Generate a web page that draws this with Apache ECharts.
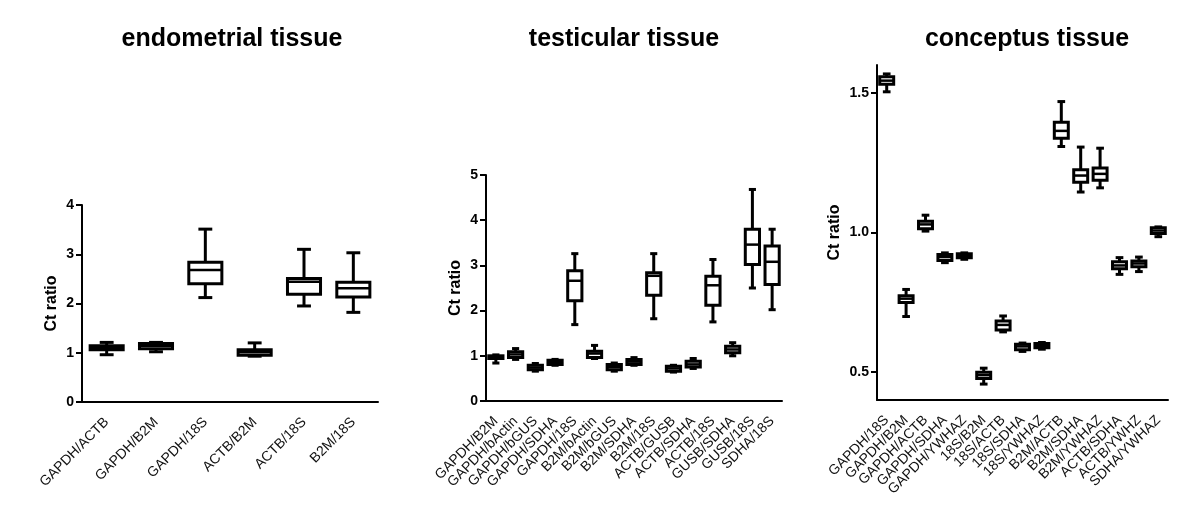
<!DOCTYPE html>
<html><head><meta charset="utf-8">
<script src="https://cdn.jsdelivr.net/npm/echarts@6.0.0/dist/echarts.min.js"></script>
<style>html,body{margin:0;padding:0;background:#fff}#c{width:1200px;height:531px}</style>
</head><body><div id="c"></div>
<script>
// ---- data: five-number summaries [min, q1, median, q3, max] ----
const panelTitles = ['endometrial tissue', 'testicular tissue', 'conceptus tissue'];
const yAxisName = 'Ct ratio';

const endoCategories = ['GAPDH/ACTB', 'GAPDH/B2M', 'GAPDH/18S', 'ACTB/B2M', 'ACTB/18S', 'B2M/18S'];
const endoStats = [
  [0.96, 1.06, 1.10, 1.14, 1.21],
  [1.02, 1.08, 1.14, 1.19, 1.21],
  [2.12, 2.40, 2.68, 2.84, 3.51],
  [0.93, 0.95, 1.01, 1.06, 1.20],
  [1.95, 2.19, 2.44, 2.51, 3.10],
  [1.82, 2.13, 2.31, 2.43, 3.03]
];
const endoTicks = [0, 1, 2, 3, 4];

const testCategories = ['GAPDH/B2M', 'GAPDH/bActin', 'GAPDH/bGUS', 'GAPDH/SDHA', 'GAPDH/18S', 'B2M/bActin', 'B2M/bGUS', 'B2M/SDHA', 'B2M/18S', 'ACTB/GUSB', 'ACTB/SDHA', 'ACTB/18S', 'GUSB/SDHA', 'GUSB/18S', 'SDHA/18S'];
const testStats = [
  [0.84, 0.94, 0.98, 1.00, 1.02],
  [0.92, 0.96, 1.03, 1.09, 1.16],
  [0.66, 0.69, 0.74, 0.79, 0.83],
  [0.79, 0.81, 0.86, 0.90, 0.92],
  [1.69, 2.22, 2.66, 2.88, 3.26],
  [0.94, 0.96, 1.05, 1.10, 1.23],
  [0.66, 0.69, 0.75, 0.81, 0.84],
  [0.79, 0.81, 0.87, 0.92, 0.96],
  [1.82, 2.34, 2.77, 2.84, 3.26],
  [0.64, 0.66, 0.72, 0.77, 0.79],
  [0.72, 0.75, 0.81, 0.88, 0.94],
  [1.75, 2.12, 2.56, 2.76, 3.13],
  [1.00, 1.07, 1.14, 1.21, 1.29],
  [2.50, 3.02, 3.46, 3.80, 4.68],
  [2.02, 2.58, 3.08, 3.43, 3.80]
];
const testTicks = [0, 1, 2, 3, 4, 5];

const concCategories = ['GAPDH/18S', 'GAPDH/B2M', 'GAPDH/ACTB', 'GAPDH/SDHA', 'GAPDH/YWHAZ', '18S/B2M', '18S/ACTB', '18S/SDHA', '18S/YWHAZ', 'B2M/ACTB', 'B2M/SDHA', 'B2M/YWHAZ', 'ACTB/SDHA', 'ACTB/YWHZ', 'SDHA/YWHAZ'];
const concStats = [
  [1.504, 1.531, 1.544, 1.558, 1.568],
  [0.699, 0.749, 0.763, 0.773, 0.796],
  [1.005, 1.013, 1.029, 1.040, 1.062],
  [0.892, 0.900, 0.912, 0.921, 0.927],
  [0.904, 0.910, 0.915, 0.924, 0.927],
  [0.457, 0.477, 0.489, 0.499, 0.514],
  [0.644, 0.651, 0.669, 0.683, 0.701],
  [0.574, 0.580, 0.592, 0.600, 0.604],
  [0.582, 0.587, 0.594, 0.602, 0.606],
  [1.308, 1.338, 1.364, 1.395, 1.469],
  [1.145, 1.180, 1.204, 1.225, 1.306],
  [1.160, 1.187, 1.210, 1.231, 1.302],
  [0.850, 0.870, 0.882, 0.895, 0.910],
  [0.860, 0.877, 0.889, 0.898, 0.912],
  [0.985, 0.996, 1.007, 1.017, 1.020]
];
const concTicks = [0.5, 1.0, 1.5];

// ---- chart ----
const FONT = 'Arial, "Liberation Sans", Helvetica, sans-serif';
const chart = echarts.init(document.getElementById('c'), null, {renderer: 'canvas'});

function makeRender(boxFrac, capFrac) {
  return function (params, api) {
    const x = api.value(0);
    const band = api.size([1, 0])[0];
    const bw = band * boxFrac, cw = bw * capFrac;
    const pMin = api.coord([x, api.value(1)]);
    const pQ1 = api.coord([x, api.value(2)]);
    const pMed = api.coord([x, api.value(3)]);
    const pQ3 = api.coord([x, api.value(4)]);
    const pMax = api.coord([x, api.value(5)]);
    const cx = pMin[0];
    const lw = 3;
    const st = {stroke: '#000', lineWidth: lw, fill: null};
    return {
      type: 'group',
      children: [
        {type: 'line', shape: {x1: cx, y1: pMax[1], x2: cx, y2: pQ3[1]}, style: st},
        {type: 'line', shape: {x1: cx, y1: pQ1[1], x2: cx, y2: pMin[1]}, style: st},
        {type: 'line', shape: {x1: cx - cw / 2, y1: pMax[1], x2: cx + cw / 2, y2: pMax[1]}, style: st},
        {type: 'line', shape: {x1: cx - cw / 2, y1: pMin[1], x2: cx + cw / 2, y2: pMin[1]}, style: st},
        {type: 'rect', shape: {x: cx - bw / 2, y: pQ3[1], width: bw, height: pQ1[1] - pQ3[1]},
          style: {stroke: '#000', lineWidth: lw, fill: '#fff'}},
        {type: 'line', shape: {x1: cx - bw / 2, y1: pMed[1], x2: cx + bw / 2, y2: pMed[1]}, style: {stroke: '#000', lineWidth: 2.5}}
      ]
    };
  };
}

function xAxisCfg(gi, cats) {
  return {
    type: 'category', gridIndex: gi, data: cats, boundaryGap: true,
    axisLine: {onZero: false, lineStyle: {color: '#000', width: 2}},
    axisTick: {alignWithLabel: true, length: 6, lineStyle: {color: '#000', width: 2}},
    axisLabel: {rotate: 45, interval: 0, fontSize: 14, color: '#111', margin: 18, fontFamily: FONT},
    splitLine: {show: false}
  };
}
function yAxisCfg(gi, min, max, ticks, nameGap, fmt) {
  return {
    type: 'value', gridIndex: gi, min: min, max: max,
    name: yAxisName, nameLocation: 'middle', nameGap: nameGap,
    nameTextStyle: {fontSize: 16, fontWeight: 'bold', color: '#000', fontFamily: FONT},
    axisLine: {show: true, onZero: false, lineStyle: {color: '#000', width: 2}},
    axisTick: {show: true, length: 6, customValues: ticks, lineStyle: {color: '#000', width: 2}},
    axisLabel: {fontSize: 14, fontWeight: 'bold', color: '#000', margin: 8, fontFamily: FONT,
      customValues: ticks, formatter: fmt},
    splitLine: {show: false}
  };
}
function rows(stats) { return stats.map((s, i) => [i].concat(s)); }

const option = {
  backgroundColor: '#fff',
  animation: false,
  graphic: panelTitles.map((t, i) => ({
    type: 'text', x: [232, 624, 1027][i], y: 39,
    style: {text: t, fontSize: 25, fontWeight: 'bold', fill: '#000', fontFamily: FONT,
      align: 'center', verticalAlign: 'middle'}
  })),
  grid: [
    {left: 82, top: 205, width: 296, height: 197},
    {left: 486, top: 175, width: 296, height: 226},
    {left: 877, top: 65, width: 291, height: 335}
  ],
  xAxis: [xAxisCfg(0, endoCategories), xAxisCfg(1, testCategories), xAxisCfg(2, concCategories)],
  yAxis: [
    yAxisCfg(0, 0, 4, endoTicks, 22, v => String(v)),
    yAxisCfg(1, 0, 5, testTicks, 22, v => String(v)),
    yAxisCfg(2, 0.4, 1.6, concTicks, 34, v => v.toFixed(1))
  ],
  series: [
    {type: 'custom', xAxisIndex: 0, yAxisIndex: 0, renderItem: makeRender(0.67, 0.42),
      data: rows(endoStats), encode: {x: 0, y: [1, 2, 3, 4, 5]}},
    {type: 'custom', xAxisIndex: 1, yAxisIndex: 1, renderItem: makeRender(0.72, 0.5),
      data: rows(testStats), encode: {x: 0, y: [1, 2, 3, 4, 5]}},
    {type: 'custom', xAxisIndex: 2, yAxisIndex: 2, renderItem: makeRender(0.72, 0.55),
      data: rows(concStats), encode: {x: 0, y: [1, 2, 3, 4, 5]}}
  ]
};
chart.setOption(option);
</script>
</body></html>
